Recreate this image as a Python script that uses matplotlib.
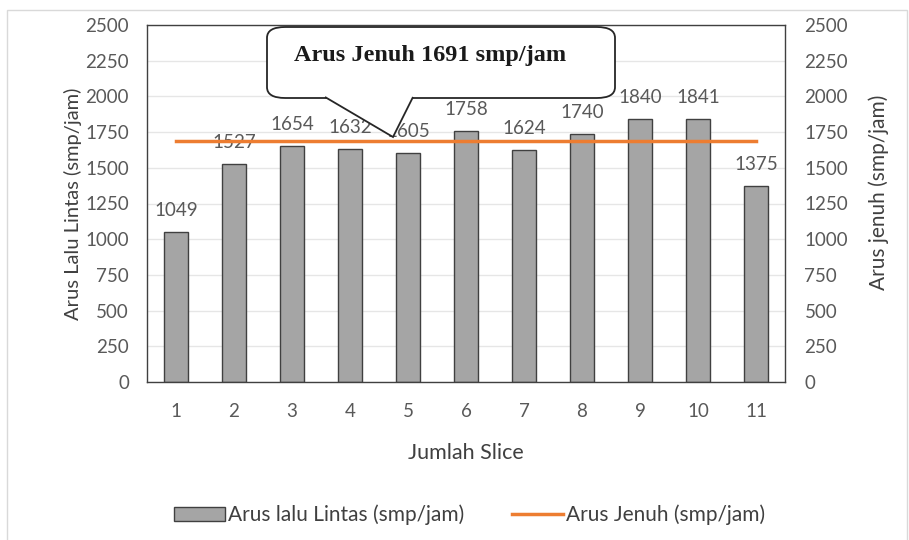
import matplotlib.pyplot as plt
from matplotlib.patches import FancyBboxPatch, Polygon, Rectangle, Patch
from matplotlib.lines import Line2D

plt.rcParams['font.family'] = ['Lato', 'DejaVu Sans']

# data
slices = [1, 2, 3, 4, 5, 6, 7, 8, 9, 10, 11]
arus_lalu_lintas = [1049, 1527, 1654, 1632, 1605, 1758, 1624, 1740, 1840, 1841, 1375]
arus_jenuh = [1691] * len(slices)
y_ticks = [0, 250, 500, 750, 1000, 1250, 1500, 1750, 2000, 2250, 2500]

tick_color = "#595959"
label_color = "#404040"

fig = plt.figure(figsize=(9.09, 5.4), dpi=100)
ax = fig.add_axes([147 / 909, 1 - 382 / 540, 638 / 909, 357 / 540])

ax.bar(slices, arus_lalu_lintas, width=0.41, color="#A5A5A5", edgecolor="#404040",
       linewidth=1.0, zorder=2)
for x, v in zip(slices, arus_lalu_lintas):
    ax.text(x, v + 90, str(v), ha="center", va="bottom", fontsize=13.5, color=tick_color, zorder=3)

ax.set_xlim(0.5, 11.5)
ax.set_ylim(0, 2500)
ax.set_yticks(y_ticks)
ax.set_xticks(slices)
ax.grid(axis="y", color="#E6E6E6", linewidth=1, zorder=0)
ax.set_axisbelow(True)
for s in ax.spines.values():
    s.set_color("#404040")
    s.set_linewidth(1.0)
ax.tick_params(axis="both", length=0, colors=tick_color, labelsize=13.5)
ax.tick_params(axis="y", pad=13)
ax.tick_params(axis="x", pad=15)
ax.set_xlabel("Jumlah Slice", fontsize=15.5, color=label_color, labelpad=17)
ax.set_ylabel("Arus Lalu Lintas (smp/jam)", fontsize=14.5, color=label_color, labelpad=2)

ax2 = ax.twinx()
ax2.plot(slices, arus_jenuh, color="#ED7D31", linewidth=2.5, zorder=4)
ax2.set_ylim(0, 2500)
ax2.set_yticks(y_ticks)
ax2.tick_params(axis="y", length=0, colors=tick_color, labelsize=13.5, pad=14)
for s in ax2.spines.values():
    s.set_visible(False)
ax2.set_ylabel("Arus jenuh (smp/jam)", fontsize=15, color=label_color)
ax2.yaxis.set_label_coords(1.131, 0.53)

# callout box
def px(x, y):
    return (x / 909, 1 - y / 540)

box = FancyBboxPatch(px(267, 98), 348 / 909, 71 / 540,
                     boxstyle="round,pad=0,rounding_size=0.02",
                     transform=fig.transFigure, facecolor="white",
                     edgecolor="#262626", linewidth=1.3, zorder=10)
fig.patches.append(box)
tail = Polygon([px(325, 97), px(393, 137), px(413, 97)], closed=False,
               transform=fig.transFigure, facecolor="white",
               edgecolor="#262626", linewidth=1.3, zorder=11)
fig.patches.append(tail)
fig.text(430 / 909, 1 - 55 / 540, "Arus Jenuh 1691 smp/jam", ha="center", va="center",
         fontsize=17.5, fontweight="bold", family="Liberation Serif", color="#1a1a1a", zorder=12)

# outer border
fig.patches.append(Rectangle(px(7, 560), 0.99, 550 / 540, transform=fig.transFigure,
                             fill=False, edgecolor="#D9D9D9", linewidth=1))

handles = [Patch(facecolor="#A5A5A5", edgecolor="#404040"),
           Line2D([0], [0], color="#ED7D31", linewidth=2.5)]
fig.legend(handles, ["Arus lalu Lintas (smp/jam)", "Arus Jenuh (smp/jam)"],
           loc="center", bbox_to_anchor=(0.5165, 1 - 515 / 540), ncol=2, frameon=False,
           fontsize=15, labelcolor=label_color, columnspacing=2.3, handlelength=2.45,
           handletextpad=0.15)

fig.savefig("out.png", dpi=100)
